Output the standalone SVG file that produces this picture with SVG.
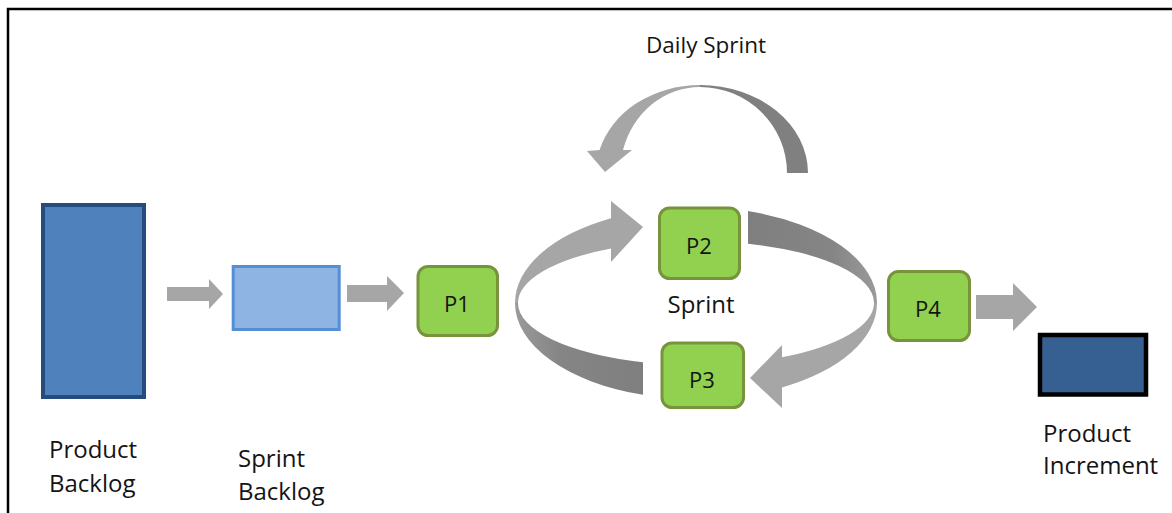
<svg xmlns="http://www.w3.org/2000/svg" width="1172" height="513" viewBox="0 0 1172 513">
  <defs>
    <style>
      .lbl { font-family: "Open Sans", "Liberation Sans", sans-serif; font-size: 24px; fill: #141414; }
      .plbl { font-family: "Open Sans", "Liberation Sans", sans-serif; font-size: 22px; fill: #141414; text-anchor: middle; }
      .step { fill: #92D050; stroke: #77933C; stroke-width: 3; }
      .flow { fill: #A6A6A6; }
      .light { fill: #A6A6A6; }
      .dark { fill: #808080; }
    </style>
    <linearGradient id="darkLeft" x1="515" y1="0" x2="643" y2="0" gradientUnits="userSpaceOnUse">
      <stop offset="0" stop-color="#9A9A9A"/>
      <stop offset="0.35" stop-color="#858585"/>
      <stop offset="1" stop-color="#7F7F7F"/>
    </linearGradient>
    <linearGradient id="darkRight" x1="748" y1="0" x2="877" y2="0" gradientUnits="userSpaceOnUse">
      <stop offset="0" stop-color="#7F7F7F"/>
      <stop offset="0.65" stop-color="#858585"/>
      <stop offset="1" stop-color="#9A9A9A"/>
    </linearGradient>
  </defs>

  <rect width="1172" height="513" fill="#FFFFFF"/>
  <!-- frame -->
  <path d="M 8 513 V 9 H 1172" fill="none" stroke="#000" stroke-width="2.5"/>

  <!-- connectors -->
  <g id="connectors">
    <!-- straight flow arrows -->
    <path class="flow" d="M 167 287 H 209 V 279 L 223 294 L 209 309 V 301 H 167 Z"/>
    <path class="flow" d="M 347 285 H 387 V 276 L 404 293 L 387 311 V 302 H 347 Z"/>
    <path class="flow" d="M 976 295 H 1013 V 283 L 1037 307 L 1013 331 V 319 H 976 Z"/>

    <!-- sprint loop: four ribbon segments around the ellipse -->
    <path class="light" d="M 611 201 L 643 227 L 611 262 L 611 248.5 A 178 62 0 0 0 518 303 L 515 303 A 181 96 0 0 1 611 218.2 Z"/>
    <path fill="url(#darkLeft)" d="M 515 303 A 181 96 0 0 0 643 394.8 L 643 362.2 A 178 62 0 0 1 518 303 Z"/>
    <path fill="url(#darkRight)" d="M 748 211.1 A 181 96 0 0 1 877 303 L 874 303 A 178 62 0 0 0 748 243.7 Z"/>
    <path class="light" d="M 877 303 A 181 96 0 0 1 782 387.5 L 782 408 L 750 378 L 782 345 L 782 357.3 A 178 62 0 0 0 874 303 Z"/>

    <!-- daily sprint arc -->
    <path class="dark" d="M 700 85 A 108 88 0 0 1 808 173 L 787 173 A 87 86 0 0 0 700 87 Z"/>
    <path class="light" d="M 700 85 A 104 88 0 0 0 599.6 150 L 587 151 L 605 172 L 632 150 L 623 150 A 80 86 0 0 1 700 87 Z"/>
  </g>

  <g id="product-backlog">
    <rect x="43" y="205" width="101" height="192" fill="#4F81BD" stroke="#264C7E" stroke-width="4"/>
    <text class="lbl" x="49" y="458">Product</text>
    <text class="lbl" x="49" y="492">Backlog</text>
  </g>

  <g id="sprint-backlog">
    <rect x="233.2" y="266.5" width="106" height="63" fill="#8EB4E3" stroke="#558ED5" stroke-width="3"/>
    <text class="lbl" x="238" y="467">Sprint</text>
    <text class="lbl" x="238" y="500">Backlog</text>
  </g>

  <g id="p1">
    <rect class="step" x="418" y="266.5" width="79.5" height="69" rx="10"/>
    <text class="plbl" x="457" y="312">P1</text>
  </g>

  <g id="p2">
    <rect class="step" x="659.5" y="208" width="80" height="70.5" rx="10"/>
    <text class="plbl" x="699" y="254">P2</text>
  </g>

  <g id="p3">
    <rect class="step" x="662" y="343" width="81.5" height="64.5" rx="10"/>
    <text class="plbl" x="702" y="388">P3</text>
  </g>

  <g id="p4">
    <rect class="step" x="888.5" y="271.5" width="81" height="69" rx="10"/>
    <text class="plbl" x="928" y="317">P4</text>
  </g>

  <g id="sprint-label">
    <text class="lbl" x="701" y="313" text-anchor="middle">Sprint</text>
  </g>

  <g id="daily-sprint-label">
    <text class="lbl" x="706" y="53" text-anchor="middle" style="font-size:22.5px">Daily Sprint</text>
  </g>

  <g id="product-increment">
    <rect x="1040" y="335" width="106" height="59.5" fill="#366092" stroke="#000" stroke-width="4.5"/>
    <text class="lbl" x="1043" y="442">Product</text>
    <text class="lbl" x="1043" y="474">Increment</text>
  </g>
</svg>
